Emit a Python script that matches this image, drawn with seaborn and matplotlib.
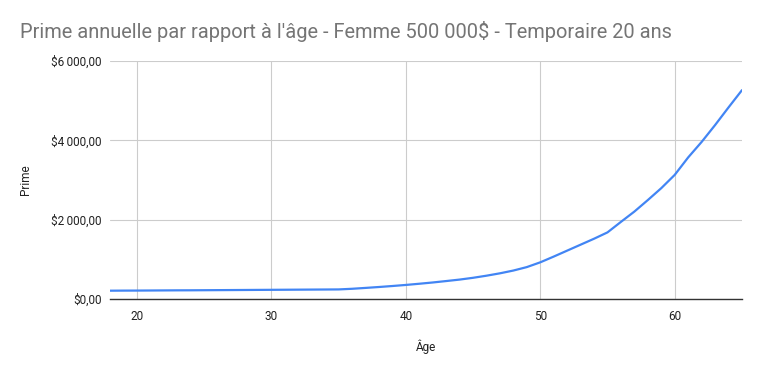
import matplotlib
matplotlib.use("Agg")
import matplotlib.pyplot as plt
import seaborn as sns
import pandas as pd
from matplotlib.ticker import FuncFormatter

ages = list(range(18, 66))
primes = [210, 212, 213, 215, 217, 219, 220, 222, 224, 226, 228, 230, 232, 234, 236, 238, 240, 242,
          258, 280, 303, 328, 355, 385, 417, 453, 490, 535, 588, 648, 718, 805, 925,
          1070, 1220, 1370, 1520, 1680, 1945, 2205, 2495, 2795, 3130, 3570, 3960, 4385, 4830, 5265]
title = "Prime annuelle par rapport à l'âge - Femme 500 000$ - Temporaire 20 ans"
xlabel = "Âge"
ylabel = "Prime"
yticks = [0, 2000, 4000, 6000]
xticks = [20, 30, 40, 50, 60]

df = pd.DataFrame({"Âge": ages, "Prime": primes})

sns.set_style("white")
plt.rcParams['font.family'] = ['Roboto', 'DejaVu Sans']

fig = plt.figure(figsize=(7.61, 3.71), dpi=100)
ax = fig.add_axes([0.1445, 0.194, 0.8305, 0.6416])
sns.lineplot(data=df, x="Âge", y="Prime", ax=ax, color="#4285F4", linewidth=1.6)

ax.set_xlim(18, 65)
ax.set_ylim(0, 6000)
ax.set_xticks(xticks)
ax.set_yticks(yticks)

def fmt(v, pos):
    s = f"{int(v):,}".replace(",", "\u2009")
    return f"${s},00"
ax.yaxis.set_major_formatter(FuncFormatter(fmt))

ax.grid(True, color="#cccccc", linewidth=0.8)
ax.set_axisbelow(True)
for s in ["top", "right", "left"]:
    ax.spines[s].set_visible(False)
ax.spines["bottom"].set_color("#333333")
ax.spines["bottom"].set_linewidth(1)
ax.tick_params(axis="both", length=0, labelsize=8.5, colors="#222222", pad=6)
ax.tick_params(axis="x", pad=8)

ax.set_xlabel(xlabel, fontsize=8.5, color="#222222", labelpad=12)
ax.set_ylabel(ylabel, fontsize=8.5, color="#222222", labelpad=14)

fig.text(20/761, 1 - 32/371, title, fontsize=14.4, color="#757575", va="center", ha="left")

fig.savefig("out.png", dpi=100)
